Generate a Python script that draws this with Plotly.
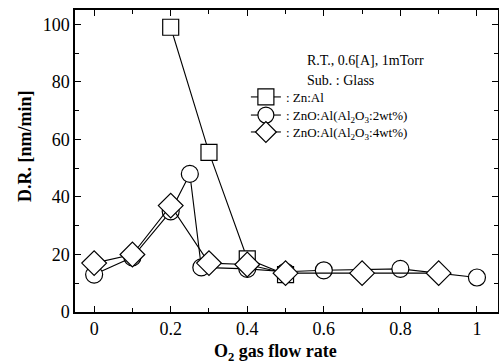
import plotly.graph_objects as go

# Data
x_znal = [0.2, 0.3, 0.4, 0.5]
y_znal = [99, 55.5, 18.5, 13]

x_2wt = [0, 0.1, 0.2, 0.25, 0.28, 0.4, 0.5, 0.6, 0.8, 1.0]
y_2wt = [13, 19, 35, 48, 15.5, 15, 14, 14.5, 15, 12]

x_4wt = [0, 0.1, 0.2, 0.3, 0.4, 0.5, 0.7, 0.9]
y_4wt = [17, 20, 37, 17, 16.5, 13.5, 13.5, 13.5]

x_ticks = [0, 0.2, 0.4, 0.6, 0.8, 1]
x_ticktext = ["0", "0.2", "0.4", "0.6", "0.8", "1"]
y_ticks = [0, 20, 40, 60, 80, 100]

names = [": Zn:Al",
         ": ZnO:Al(Al<sub>2</sub>O<sub>3</sub>:2wt%)",
         ": ZnO:Al(Al<sub>2</sub>O<sub>3</sub>:4wt%)"]

FONT = "Liberation Serif"
mk = dict(color="white", line=dict(color="black", width=1.2))

fig = go.Figure()
fig.add_trace(go.Scatter(x=x_znal, y=y_znal, mode="lines+markers", name=names[0],
                         legend="legend",
                         line=dict(color="black", width=1.1),
                         marker=dict(symbol="square", size=16, **mk)))
fig.add_trace(go.Scatter(x=x_2wt, y=y_2wt, mode="lines+markers", name=names[1],
                         legend="legend2",
                         line=dict(color="black", width=1.1),
                         marker=dict(symbol="circle", size=17, **mk)))
fig.add_trace(go.Scatter(x=x_4wt, y=y_4wt, mode="lines+markers", name=names[2],
                         legend="legend3",
                         line=dict(color="black", width=1.1),
                         marker=dict(symbol="diamond", size=19, **mk)))

axis_common = dict(showline=True, linecolor="black", linewidth=1.5, mirror="ticks",
                   ticks="inside", ticklen=6, tickcolor="black", tickwidth=1.2,
                   showgrid=False, zeroline=False, automargin=False,
                   tickfont=dict(family=FONT, size=18, color="black"))

fig.update_xaxes(range=[-0.05, 1.055], tickvals=x_ticks, ticktext=x_ticktext,
                 minor=dict(ticks="inside", ticklen=4, dtick=0.1, tickcolor="black"),
                 **axis_common)
fig.update_yaxes(range=[0, 105], tickvals=y_ticks,
                 minor=dict(ticks="inside", ticklen=4, dtick=10, tickcolor="black"),
                 **axis_common)

fig.add_annotation(xref="paper", yref="paper", x=0.475, y=-0.133, xanchor="center", yanchor="middle",
                   text="<b>O<sub>2</sub> gas flow rate</b>", showarrow=False,
                   font=dict(family=FONT, size=18, color="black"))
fig.add_annotation(xref="paper", yref="paper", x=-0.118, y=0.55, xanchor="center", yanchor="middle",
                   text="<b>D.R. [nm/min]</b>", showarrow=False, textangle=-90,
                   font=dict(family=FONT, size=18, color="black"))
fig.add_annotation(xref="paper", yref="paper", x=0.544, y=0.834, xanchor="left", yanchor="middle",
                   text="R.T., 0.6[A], 1mTorr", showarrow=False,
                   font=dict(family=FONT, size=14, color="black"))
fig.add_annotation(xref="paper", yref="paper", x=0.544, y=0.768, xanchor="left", yanchor="middle",
                   text="Sub. : Glass", showarrow=False,
                   font=dict(family=FONT, size=14, color="black"))

leg = dict(x=0.404, xanchor="left", yanchor="middle", bgcolor="rgba(0,0,0,0)",
           font=dict(family=FONT, size=13, color="black"), itemwidth=30)

fig.update_layout(
    width=499, height=364,
    margin=dict(l=75, r=1, t=10, b=52),
    paper_bgcolor="white", plot_bgcolor="white",
    showlegend=True,
    legend=dict(y=0.712, **leg),
    legend2=dict(y=0.652, **leg),
    legend3=dict(y=0.596, **leg),
)

fig.write_html("out.html", config={"displayModeBar": False},
               post_script="document.body.style.margin='0';")
